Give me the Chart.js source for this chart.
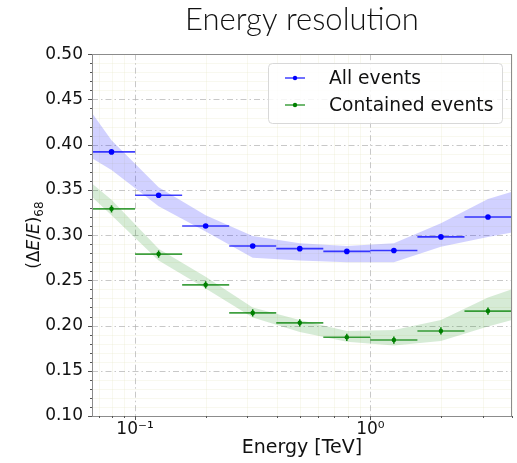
<!DOCTYPE html>
<html>
<head>
<meta charset="utf-8">
<script src="https://cdn.jsdelivr.net/npm/chart.js@4.4.1/dist/chart.umd.min.js"></script>
<style>
  html, body { margin: 0; padding: 0; background: #fff; }
  #wrap { width: 517px; height: 463px; }
</style>
</head>
<body>
<div id="wrap"><canvas id="resChart" width="517" height="463"></canvas></div>
<script>
// energy bins (TeV), 5 per decade
const binEdges = [0.0631, 0.1, 0.1585, 0.2512, 0.3981, 0.631, 1.0, 1.585, 2.512, 3.981];
const binCenters = [0.0794, 0.1259, 0.1995, 0.3162, 0.5012, 0.7943, 1.259, 1.995, 3.162];

// 68% containment resolution per bin
const allEvents = [0.392, 0.344, 0.310, 0.288, 0.285, 0.282, 0.283, 0.298, 0.320];
const allErr = [0.002, 0.002, 0.002, 0.002, 0.002, 0.002, 0.002, 0.002, 0.002];
const containedEvents = [0.329, 0.279, 0.245, 0.214, 0.203, 0.187, 0.184, 0.194, 0.216];
const containedErr = [0.004, 0.004, 0.004, 0.004, 0.004, 0.004, 0.004, 0.004, 0.004];

// reference bands (edge of axis + bin centers)
const bandX = [0.0656, 0.0794, 0.1259, 0.1995, 0.3162, 0.5012, 0.7943, 1.259, 1.995, 3.162, 4.0];
const allUpper = [0.435, 0.405, 0.353, 0.322, 0.299, 0.291, 0.288, 0.291, 0.313, 0.340, 0.348];
const allLower = [0.385, 0.372, 0.332, 0.304, 0.275, 0.272, 0.270, 0.270, 0.287, 0.298, 0.303];
const contUpper = [0.357, 0.339, 0.285, 0.254, 0.220, 0.206, 0.194, 0.195, 0.206, 0.231, 0.240];
const contLower = [0.342, 0.322, 0.272, 0.241, 0.209, 0.193, 0.182, 0.178, 0.183, 0.199, 0.206];

const yTicks = [0.10, 0.15, 0.20, 0.25, 0.30, 0.35, 0.40, 0.45, 0.50];
const xMajor = [0.1, 1];
const xMajorLabels = ['10\u207B\u00B9', '10\u2070'];
const xMinor = [0.07, 0.08, 0.09, 0.2, 0.3, 0.4, 0.5, 0.6, 0.7, 0.8, 0.9, 2, 3, 4];
const seriesNames = ['All events', 'Contained events'];

const BLUE = '#0000ff';
const GREEN = '#008000';
const FONT = "'DejaVu Sans', sans-serif";

function bandData(ys) {
    return bandX.map((x, i) => ({ x: x, y: ys[i] }));
}
// horizontal bin segments, broken by nulls
function binSegments(vals) {
    const pts = [];
    vals.forEach((v, i) => {
        pts.push({ x: binEdges[i], y: v });
        pts.push({ x: binEdges[i + 1], y: v });
        pts.push({ x: binEdges[i + 1], y: null });
    });
    return pts;
}
function centerPoints(vals) {
    return vals.map((v, i) => ({ x: binCenters[i], y: v }));
}

// grid, frame and tick marks drawn from the scales
const gridPlugin = {
    id: 'gridPlugin',
    beforeDatasetsDraw(chart) {
        const { ctx, chartArea: a, scales: { x, y } } = chart;
        ctx.save();
        ctx.lineWidth = 1;
        // minor grid
        ctx.strokeStyle = 'rgba(225,225,180,0.22)';
        xMinor.forEach(v => {
            const px = Math.round(x.getPixelForValue(v)) + 0.5;
            ctx.beginPath(); ctx.moveTo(px, a.top); ctx.lineTo(px, a.bottom); ctx.stroke();
        });
        for (let v = 0.11; v < 0.5; v += 0.01) {
            if (yTicks.some(t => Math.abs(t - v) < 1e-6)) continue;
            const py = Math.round(y.getPixelForValue(v)) + 0.5;
            ctx.beginPath(); ctx.moveTo(a.left, py); ctx.lineTo(a.right, py); ctx.stroke();
        }
        // major grid, dash-dot
        ctx.strokeStyle = 'rgba(176,176,176,0.7)';
        ctx.setLineDash([6, 3, 1.5, 3]);
        xMajor.forEach(v => {
            const px = Math.round(x.getPixelForValue(v)) + 0.5;
            ctx.beginPath(); ctx.moveTo(px, a.top); ctx.lineTo(px, a.bottom); ctx.stroke();
        });
        yTicks.forEach(v => {
            const py = Math.round(y.getPixelForValue(v)) + 0.5;
            ctx.beginPath(); ctx.moveTo(a.left, py); ctx.lineTo(a.right, py); ctx.stroke();
        });
        ctx.restore();
    },
    afterDraw(chart) {
        const { ctx, chartArea: a, scales: { x, y } } = chart;
        ctx.save();
        ctx.strokeStyle = '#8c8c8c';
        ctx.lineWidth = 1;
        ctx.strokeRect(Math.round(a.left) + 0.5, Math.round(a.top) + 0.5,
            Math.round(a.right - a.left) - 1, Math.round(a.bottom - a.top));
        // y ticks
        ctx.strokeStyle = '#555';
        yTicks.forEach(v => {
            const py = Math.round(y.getPixelForValue(v)) + 0.5;
            ctx.beginPath(); ctx.moveTo(a.left - 4, py); ctx.lineTo(a.left, py); ctx.stroke();
        });
        for (let v = 0.11; v < 0.5; v += 0.01) {
            const py = Math.round(y.getPixelForValue(v)) + 0.5;
            ctx.beginPath(); ctx.moveTo(a.left - 2, py); ctx.lineTo(a.left, py); ctx.stroke();
        }
        // x ticks
        xMajor.forEach(v => {
            const px = Math.round(x.getPixelForValue(v)) + 0.5;
            ctx.beginPath(); ctx.moveTo(px, a.bottom); ctx.lineTo(px, a.bottom + 4); ctx.stroke();
        });
        xMinor.forEach(v => {
            const px = Math.round(x.getPixelForValue(v)) + 0.5;
            ctx.beginPath(); ctx.moveTo(px, a.bottom); ctx.lineTo(px, a.bottom + 2); ctx.stroke();
        });

        // y axis title: (ΔE/E)_68
        ctx.translate(39, (a.top + a.bottom) / 2);
        ctx.rotate(-Math.PI / 2);
        ctx.fillStyle = '#111';
        ctx.textBaseline = 'alphabetic';
        const parts = [
            ['(\u0394', '17px ' + FONT, 0],
            ['E', 'italic 17px ' + FONT, 0],
            ['/', '17px ' + FONT, 0],
            ['E', 'italic 17px ' + FONT, 0],
            [')', '17px ' + FONT, 0],
            ['68', '12px ' + FONT, 4]
        ];
        let total = 0;
        parts.forEach(p => { ctx.font = p[1]; total += ctx.measureText(p[0]).width; });
        let cx = -total / 2;
        parts.forEach(p => {
            ctx.font = p[1];
            ctx.fillText(p[0], cx, p[2]);
            cx += ctx.measureText(p[0]).width;
        });
        ctx.restore();

        // legend box inside the plot
        ctx.save();
        const bx = 268.5, by = 63.5, bw = 234, bh = 60;
        ctx.fillStyle = 'rgba(255,255,255,0.85)';
        ctx.strokeStyle = '#d8d8d8';
        ctx.beginPath();
        ctx.roundRect(bx, by, bw, bh, 4);
        ctx.fill(); ctx.stroke();
        const colors = [BLUE, GREEN];
        ctx.font = '18.7px ' + FONT;
        ctx.textBaseline = 'middle';
        seriesNames.forEach((name, i) => {
            const ly = 78 + i * 27;
            ctx.strokeStyle = colors[i];
            ctx.globalAlpha = 0.75;
            ctx.lineWidth = 1.5;
            ctx.beginPath(); ctx.moveTo(285, ly); ctx.lineTo(305, ly); ctx.stroke();
            ctx.globalAlpha = 1;
            ctx.fillStyle = colors[i];
            ctx.beginPath(); ctx.arc(295, ly, 2.2, 0, Math.PI * 2); ctx.fill();
            ctx.fillStyle = '#111';
            ctx.fillText(name, 329, ly + 1);
        });
        ctx.restore();
    }
};

// vertical error bars on the bin centres
const errPlugin = {
    id: 'errPlugin',
    afterDatasetsDraw(chart) {
        const { ctx, scales: { x, y } } = chart;
        ctx.save();
        ctx.lineWidth = 1.5;
        [[allEvents, allErr, BLUE], [containedEvents, containedErr, GREEN]].forEach(([vals, errs, c]) => {
            ctx.strokeStyle = c;
            vals.forEach((v, i) => {
                const px = x.getPixelForValue(binCenters[i]);
                ctx.beginPath();
                ctx.moveTo(px, y.getPixelForValue(v - errs[i]));
                ctx.lineTo(px, y.getPixelForValue(v + errs[i]));
                ctx.stroke();
            });
        });
        ctx.restore();
    }
};

const ctx = document.getElementById('resChart').getContext('2d');
new Chart(ctx, {
    type: 'line',
    data: {
        datasets: [
            { data: bandData(allLower), borderWidth: 0, pointRadius: 0, fill: false, order: 10 },
            { data: bandData(allUpper), borderWidth: 0, pointRadius: 0, fill: '-1',
              backgroundColor: 'rgba(0,0,255,0.18)', order: 10 },
            { data: bandData(contLower), borderWidth: 0, pointRadius: 0, fill: false, order: 10 },
            { data: bandData(contUpper), borderWidth: 0, pointRadius: 0, fill: '-1',
              backgroundColor: 'rgba(0,128,0,0.16)', order: 10 },
            { label: seriesNames[0], data: binSegments(allEvents), borderColor: 'rgba(0,0,255,0.75)',
              borderWidth: 1.6, pointRadius: 0, spanGaps: false, order: 3 },
            { label: seriesNames[1], data: binSegments(containedEvents), borderColor: 'rgba(0,128,0,0.75)',
              borderWidth: 1.6, pointRadius: 0, spanGaps: false, order: 3 },
            { data: centerPoints(allEvents), showLine: false, pointRadius: 2.8,
              pointBackgroundColor: BLUE, pointBorderWidth: 0, order: 1 },
            { data: centerPoints(containedEvents), showLine: false, pointRadius: 2.3,
              pointBackgroundColor: GREEN, pointBorderWidth: 0, order: 1 }
        ]
    },
    options: {
        responsive: false,
        animation: false,
        layout: { padding: { left: 0, right: 5, top: 0, bottom: 0 } },
        plugins: {
            legend: { display: false },
            tooltip: { enabled: false },
            title: {
                display: true,
                fullSize: false,
                text: 'Energy resolution',
                color: '#111',
                font: { family: 'Lato', size: 31, weight: '300' },
                padding: { top: 1, bottom: 16 }
            }
        },
        scales: {
            x: {
                type: 'logarithmic',
                min: 0.0656,
                max: 4.0,
                grid: { display: false, drawTicks: false, tickLength: 0 },
                border: { display: false },
                afterBuildTicks: axis => { axis.ticks = xMajor.map(v => ({ value: v })); },
                afterFit: axis => { axis.height = 47; },
                ticks: {
                    autoSkip: false,
                    maxRotation: 0,
                    padding: 3,
                    color: '#111',
                    font: { family: 'DejaVu Sans', size: 17 },
                    callback: (v) => xMajorLabels[xMajor.indexOf(v)] || ''
                },
                title: {
                    display: true,
                    text: 'Energy [TeV]',
                    color: '#111',
                    font: { family: 'DejaVu Sans', size: 19 },
                    padding: { top: 0, bottom: 4 }
                }
            },
            y: {
                type: 'linear',
                min: 0.1,
                max: 0.5,
                grid: { display: false, drawTicks: false, tickLength: 0 },
                border: { display: false },
                afterBuildTicks: axis => { axis.ticks = yTicks.map(v => ({ value: v })); },
                afterFit: axis => { axis.width = 92; },
                ticks: {
                    padding: 9,
                    color: '#111',
                    font: { family: 'DejaVu Sans', size: 17 },
                    callback: v => v.toFixed(2)
                }
            }
        }
    },
    plugins: [gridPlugin, errPlugin]
});
</script>
</body>
</html>
